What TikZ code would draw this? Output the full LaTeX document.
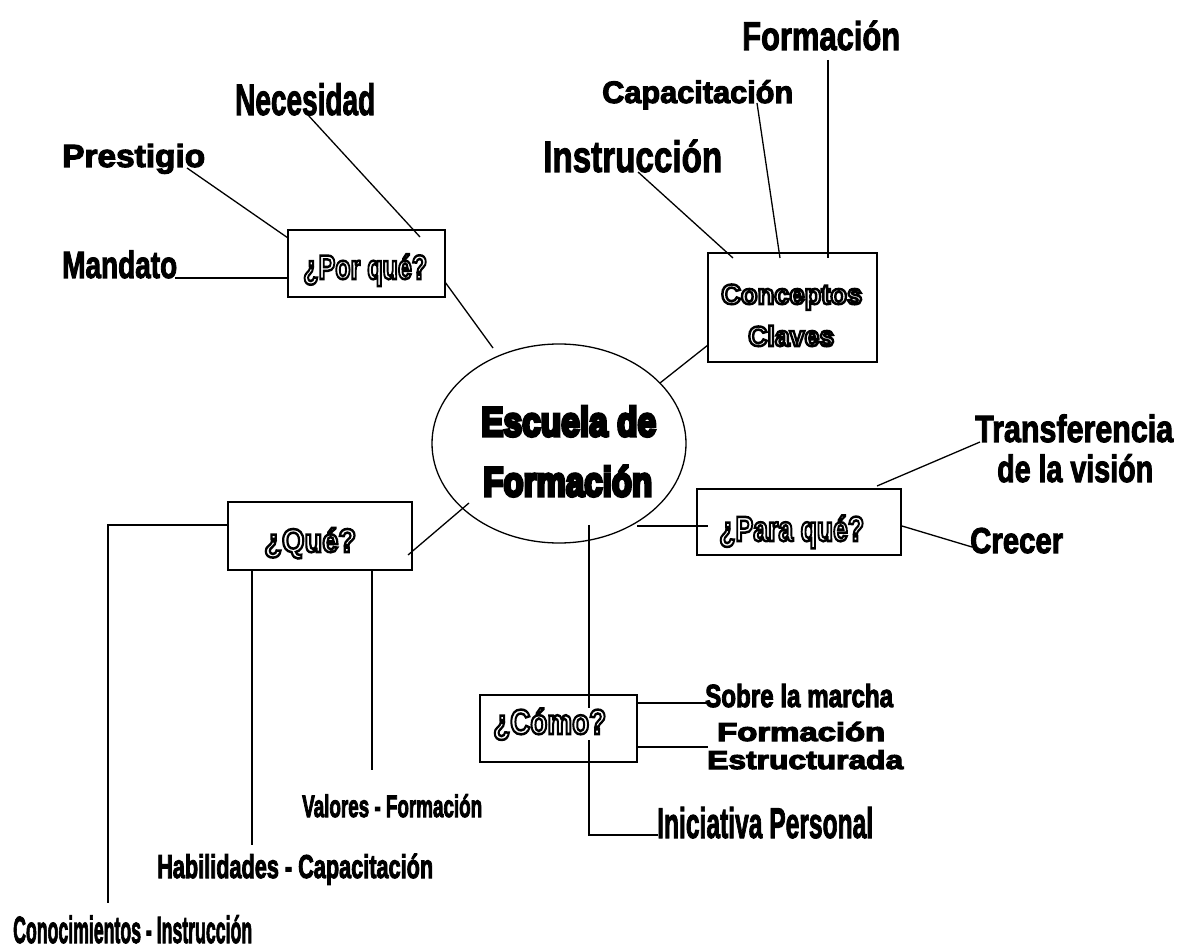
\documentclass[tikz,border=0pt]{standalone}
\usepackage{fontspec}
\setmainfont{Liberation Sans}
\usepackage{graphicx}
\usetikzlibrary{shapes.geometric}
\newcommand\strk[2]{\special{pdf:literal direct #1}#2\special{pdf:literal direct 0 Tr}}
\newcommand\fitw[3]{{\fontsize{#1}{#1}\bfseries\resizebox{#2}{\height}{\strk{2 Tr 1.1 w}{#3}}}}
\newcommand\heavytxt[3]{{\fontsize{#1}{#1}\bfseries\resizebox{#2}{\height}{\strk{2 Tr 3.4 w}{#3}}}}
\newcommand\outl[3]{{\fontsize{#1}{#1}\bfseries\resizebox{#2}{\height}{\strk{1 Tr 2.5 w}{#3}}}}
\tikzset{
  lbl/.style={inner sep=0pt, anchor=base west},
  qbox/.style={draw, line width=1.3pt, inner sep=0pt},
  conn/.style={line width=1.3pt},
}
\begin{document}
\begin{tikzpicture}[x=1pt,y=-1pt]
\useasboundingbox (0,0) rectangle (1187,949);
% central ellipse
\node[draw, ellipse, line width=1.3pt, minimum width=254pt, minimum height=199pt, inner sep=0pt] (esc) at (559,443.5) {};
\node[lbl] (esc1) at (481,436) {\heavytxt{41}{175pt}{Escuela de}};
\node[lbl] (esc2) at (483,496) {\heavytxt{41}{169pt}{Formación}};
% boxes
\node[qbox, minimum width=157pt, minimum height=67pt] (pq) at (366.5,263.5) {};
\node[qbox, minimum width=169pt, minimum height=109pt] (cc) at (792.5,307.5) {};
\node[qbox, minimum width=204pt, minimum height=66pt] (paq) at (799,522) {};
\node[qbox, minimum width=184pt, minimum height=68pt] (q) at (320,536) {};
\node[qbox, minimum width=157pt, minimum height=67pt] (co) at (558.5,728.5) {};
% connector end points
\coordinate (preOut) at (187,168);
\coordinate (necOut) at (308,115);
\coordinate (manOut) at (175,278);
\coordinate (pqNec) at (420,237);
\coordinate (pqPre) at (288,238);
\coordinate (pqMan) at (288,278);
\coordinate (pqOut) at (445,282);
\coordinate (escPq) at (493,348);
\coordinate (insOut) at (638,172);
\coordinate (capOut) at (757,103);
\coordinate (forOut) at (828,60);
\coordinate (ccIns) at (733,258);
\coordinate (ccCap) at (780,258);
\coordinate (ccFor) at (828,258);
\coordinate (ccOut) at (708,345);
\coordinate (escCc) at (660,383);
\coordinate (paqTr) at (877,486);
\coordinate (trIn) at (980,442);
\coordinate (paqCr) at (902,526);
\coordinate (crIn) at (972,547);
\coordinate (escPaq) at (637,526);
\coordinate (paqIn) at (708,526);
\coordinate (escQ) at (469,503);
\coordinate (qIn) at (408,555);
\coordinate (qL) at (228,525);
\coordinate (cornerQ) at (108,525);
\coordinate (endCon) at (108,903);
\coordinate (qHab) at (252,570);
\coordinate (endHab) at (252,845);
\coordinate (qVal) at (372,570);
\coordinate (endVal) at (372,770);
\coordinate (escDown) at (589,525);
\coordinate (cornerIni) at (589,835);
\coordinate (iniIn) at (658,835);
\coordinate (coR1) at (637,703);
\coordinate (sobIn) at (706,703);
\coordinate (coR2) at (637,747);
\coordinate (feIn) at (708,747);
% labels
\node[lbl] (pre) at (62,167) {\fitw{32}{143pt}{Prestigio}};
\node[lbl] (nec) at (235,115) {\fitw{44}{140pt}{Necesidad}};
\node[lbl] (man) at (62,278) {\fitw{38}{115pt}{Mandato}};
\node[lbl] (for) at (742,50) {\fitw{40}{158pt}{Formación}};
\node[lbl] (cap) at (602,103) {\fitw{31}{191pt}{Capacitación}};
\node[lbl] (ins) at (543,172) {\fitw{44}{179pt}{Instrucción}};
\node[lbl] (tr1) at (975,442) {\fitw{38}{198pt}{Transferencia}};
\node[lbl] (tr2) at (997,482) {\fitw{38}{156pt}{de la visión}};
\node[lbl] (cre) at (970,553) {\fitw{36}{93pt}{Crecer}};
\node[lbl] (sob) at (705,707) {\fitw{32}{188pt}{Sobre la marcha}};
\node[lbl] (fe1) at (717,741) {\fitw{26}{168pt}{Formación}};
\node[lbl] (fe2) at (707,769) {\fitw{26}{196pt}{Estructurada}};
\node[lbl] (ini) at (657,838) {\fitw{43}{216pt}{Iniciativa Personal}};
\node[lbl] (val) at (302,817) {\fitw{31}{180pt}{Valores - Formación}};
\node[lbl] (hab) at (157,878) {\fitw{33}{276pt}{Habilidades - Capacitación}};
\node[lbl] (con) at (13,943) {\fitw{38}{239pt}{Conocimientos - Instrucción}};
% connectors
\draw[conn] (preOut) -- (pqPre);
\draw[conn] (necOut) -- (pqNec);
\draw[conn] (manOut) -- (pqMan);
\draw[conn] (pqOut) -- (escPq);
\draw[conn] (insOut) -- (ccIns);
\draw[conn] (capOut) -- (ccCap);
\draw[conn] (forOut) -- (ccFor);
\draw[conn] (ccOut) -- (escCc);
\draw[conn] (paqTr) -- (trIn);
\draw[conn] (paqCr) -- (crIn);
\draw[conn] (escPaq) -- (paqIn);
\draw[conn] (escQ) -- (qIn);
\draw[conn] (qL) -- (cornerQ) -- (endCon);
\draw[conn] (qHab) -- (endHab);
\draw[conn] (qVal) -- (endVal);
\draw[conn] (escDown) -- (cornerIni) -- (iniIn);
\draw[conn] (coR1) -- (sobIn);
\draw[conn] (coR2) -- (feIn);
% outlined box texts
\node[lbl] (pqT) at (303,279) {\outl{34}{124pt}{¿Por qué?}};
\node[lbl] (ccT1) at (721,304) {\outl{28}{141pt}{Conceptos}};
\node[lbl] (ccT2) at (748,346) {\outl{28}{86pt}{Claves}};
\node[lbl] (paqT) at (719,541) {\outl{35}{145pt}{¿Para qué?}};
\node[lbl] (qT) at (264,552) {\outl{33}{92pt}{¿Qué?}};
\node[lbl, fill=white] (coT) at (493,734) {\outl{35}{113pt}{¿Cómo?}};
\end{tikzpicture}
\end{document}
